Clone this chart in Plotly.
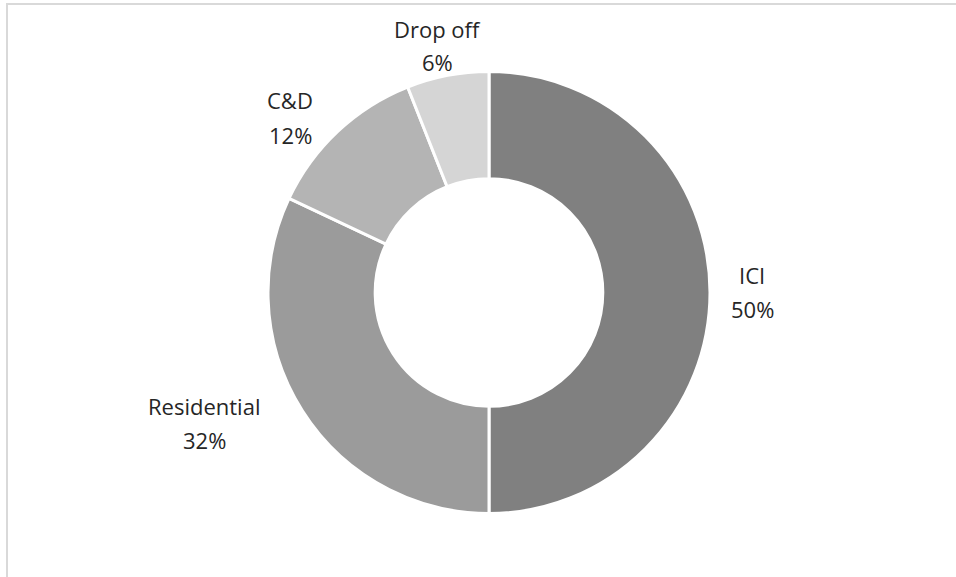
import plotly.graph_objects as go

# Data
categories = ["ICI", "Residential", "C&D", "Drop off"]
shares = [50, 32, 12, 6]

# Styles
colors = ["#808080", "#9b9b9b", "#b4b4b4", "#d5d5d5"]
W, H = 956, 577
CX, CY, R = 489, 292.5, 221  # pie centre / radius in pixels
# label block centre offsets relative to pie centre (pixels, y down)
label_offsets = [(263, -1), (-285, 130), (-199, -175), (-52, -247)]
LINE_GAP = 34

fig = go.Figure()
fig.add_trace(go.Pie(
    labels=categories,
    values=shares,
    sort=False,
    direction="clockwise",
    rotation=0,
    hole=0.515,
    marker=dict(colors=colors, line=dict(color="white", width=3)),
    textinfo="none",
    hoverinfo="label+percent",
    showlegend=False,
    domain=dict(x=[(CX - R) / W, (CX + R) / W],
                y=[1 - (CY + R) / H, 1 - (CY - R) / H]),
))

total = sum(shares)
annotations = []
for name, v, (ox, oy) in zip(categories, shares, label_offsets):
    pct = f"{round(100 * v / total)}%"
    bx, by = CX + ox, CY + oy
    for txt, yy in ((name, by - LINE_GAP / 2), (pct, by + LINE_GAP / 2)):
        annotations.append(dict(
            x=bx / W, y=1 - yy / H, xref="paper", yref="paper",
            text=txt, showarrow=False, xanchor="center", yanchor="middle",
            font=dict(family="Open Sans", size=22, color="#262626"),
        ))

fig.update_layout(
    width=W, height=H,
    margin=dict(l=0, r=0, t=0, b=0),
    paper_bgcolor="white",
    plot_bgcolor="white",
    annotations=annotations,
    shapes=[
        dict(type="line", xref="paper", yref="paper",
             x0=6 / W, x1=1, y0=1 - 4 / H, y1=1 - 4 / H,
             line=dict(color="#d9d9d9", width=2)),
        dict(type="line", xref="paper", yref="paper",
             x0=7 / W, x1=7 / W, y0=0, y1=1 - 4 / H,
             line=dict(color="#d9d9d9", width=2)),
    ],
)

fig.write_html(
    "out.html",
    config={"displayModeBar": False},
    post_script="document.body.style.margin='0';document.body.style.overflow='hidden';",
)
